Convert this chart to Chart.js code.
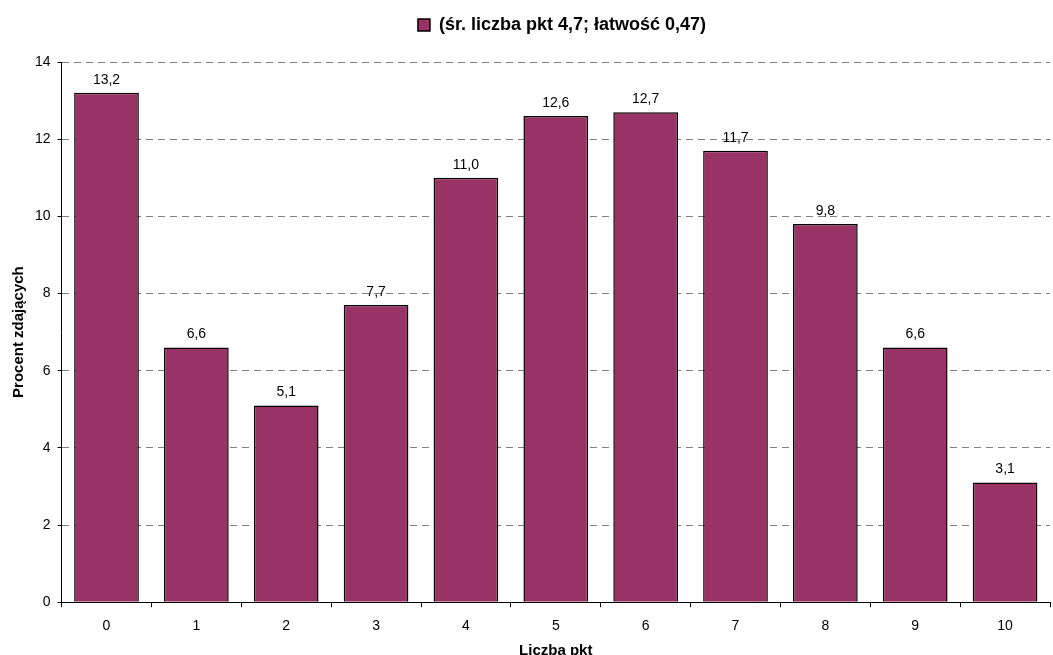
<!DOCTYPE html>
<html>
<head>
<meta charset="utf-8">
<script src="https://cdn.jsdelivr.net/npm/chart.js@4"></script>
<style>
  html, body { margin: 0; padding: 0; background: #fff; }
  #wrap { width: 1053px; height: 655px; }
</style>
</head>
<body>
<div id="wrap"><canvas id="chart" width="1053" height="655"></canvas></div>
<script>
  // Data
  const categories = ["0", "1", "2", "3", "4", "5", "6", "7", "8", "9", "10"];
  const percents = [13.2, 6.6, 5.1, 7.7, 11.0, 12.6, 12.7, 11.7, 9.8, 6.6, 3.1];
  const seriesLabel = "(śr. liczba pkt 4,7; łatwość 0,47)";
  const yTitle = "Procent zdających";
  const xTitle = "Liczba pkt";

  const FONT = "'Liberation Sans', Arial, sans-serif";
  const fmt = (v) => v.toFixed(1).replace(".", ",");

  // value labels above bars
  const valueLabels = {
    id: "valueLabels",
    afterDatasetsDraw(chart) {
      const ctx = chart.ctx;
      const meta = chart.getDatasetMeta(0);
      ctx.save();
      ctx.font = "14px " + FONT;
      ctx.fillStyle = "#000";
      ctx.textAlign = "center";
      ctx.textBaseline = "bottom";
      meta.data.forEach((bar, i) => {
        ctx.fillText(fmt(percents[i]), bar.x, bar.y - 6);
      });
      ctx.restore();
    }
  };

  // extra room under the legend, and centre it over the plot
  const legendSpace = {
    id: "legendSpace",
    beforeInit(chart) {
      const fit = chart.legend.fit;
      chart.legend.fit = function () {
        fit.call(this);
        this.height += 18;
      };
    },
    afterLayout(chart) {
      chart.legend.left += 70;
    }
  };

  new Chart(document.querySelector("#chart").getContext("2d"), {
    type: "bar",
    data: {
      labels: categories,
      datasets: [{
        label: seriesLabel,
        data: percents,
        backgroundColor: "#993366",
        borderColor: "#000",
        borderWidth: 1.5,
        barPercentage: 0.72,
        categoryPercentage: 1
      }]
    },
    options: {
      responsive: false,
      animation: false,
      layout: { padding: { left: 4, right: 3, top: 6, bottom: 0 } },
      plugins: {
        legend: {
          position: "top",
          labels: {
            boxWidth: 12,
            boxHeight: 12,
            padding: 10,
            color: "#000",
            font: { family: FONT, size: 18, weight: "bold" }
          }
        },
        tooltip: { enabled: false }
      },
      scales: {
        x: {
          grid: {
            offset: true,
            drawOnChartArea: false,
            drawTicks: true,
            tickLength: 5,
            tickColor: "#000"
          },
          border: { color: "#000" },
          ticks: { color: "#000", font: { family: FONT, size: 14 }, padding: 11 },
          title: {
            display: true,
            text: xTitle,
            color: "#000",
            font: { family: FONT, size: 15, weight: "bold", lineHeight: 0.6 },
            padding: { top: 0, bottom: 0 }
          }
        },
        y: {
          min: 0,
          max: 14,
          ticks: { stepSize: 2, color: "#000", font: { family: FONT, size: 14 }, padding: 7 },
          grid: {
            color: "#808080",
            tickLength: 4,
            tickColor: "#000",
            tickBorderDash: []
          },
          border: { color: "#000", dash: [7, 5] },
          title: {
            display: true,
            text: yTitle,
            color: "#000",
            font: { family: FONT, size: 15, weight: "bold" },
            padding: { top: 6, bottom: 0 }
          }
        }
      }
    },
    plugins: [valueLabels, legendSpace]
  });
</script>
</body>
</html>
